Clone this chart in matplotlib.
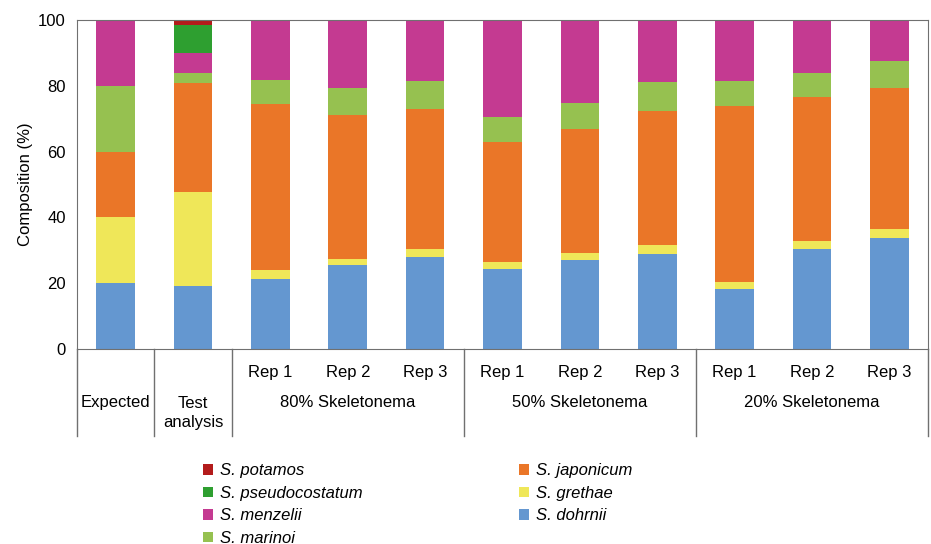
import matplotlib.pyplot as plt
import numpy as np
from matplotlib.patches import Patch

plt.rcParams["font.family"] = ["Liberation Sans", "DejaVu Sans"]

# composition (%) per sample, bottom to top
rep_labels = ["", "", "Rep 1", "Rep 2", "Rep 3", "Rep 1", "Rep 2", "Rep 3",
              "Rep 1", "Rep 2", "Rep 3"]
dohrnii = [20.0, 19.1, 21.4, 25.5, 28.1, 24.2, 26.9, 28.9, 18.2, 30.3, 33.6]
grethae = [20.0, 28.5, 2.7, 2.0, 2.3, 2.2, 2.3, 2.6, 2.3, 2.5, 2.8]
japonicum = [20.0, 33.2, 50.3, 43.7, 42.6, 36.4, 37.6, 40.9, 53.4, 43.7, 43.0]
marinoi = [20.0, 3.0, 7.3, 8.2, 8.4, 7.6, 7.9, 8.7, 7.5, 7.3, 8.2]
menzelii = [20.0, 6.3, 18.3, 20.6, 18.6, 29.6, 25.3, 18.9, 18.6, 16.2, 12.4]
pseudocostatum = [0, 8.5, 0, 0, 0, 0, 0, 0, 0, 0, 0]
potamos = [0, 1.4, 0, 0, 0, 0, 0, 0, 0, 0, 0]

groups = [("Expected", 0, 0), ("Test\nanalysis", 1, 1), ("80% Skeletonema", 2, 4),
          ("50% Skeletonema", 5, 7), ("20% Skeletonema", 8, 10)]

series = [
    ("S. dohrnii", dohrnii, "#6497D0"),
    ("S. grethae", grethae, "#EFE759"),
    ("S. japonicum", japonicum, "#EA7628"),
    ("S. marinoi", marinoi, "#96C150"),
    ("S. menzelii", menzelii, "#C43A91"),
    ("S. pseudocostatum", pseudocostatum, "#2E9F30"),
    ("S. potamos", potamos, "#B31B1B"),
]

fig = plt.figure(figsize=(9.31, 5.44), dpi=100)
ax = fig.add_axes([77 / 931, 1 - 349 / 544, 851 / 931, 329 / 544])

x = np.arange(len(dohrnii))
bottom = np.zeros(len(x))
colors = {}
for name, vals, col in series:
    vals = np.array(vals)
    ax.bar(x, vals, bottom=bottom, width=0.5, color=col, edgecolor="none")
    bottom += vals
    colors[name] = col

ax.set_xlim(-0.5, len(x) - 0.5)
ax.set_ylim(0, 100)
ax.set_yticks(range(0, 101, 20))
ax.set_xticks([])
ax.tick_params(axis="y", length=0, pad=8, labelsize=12)
ax.set_ylabel("Composition (%)", fontsize=12, labelpad=4)
for sp in ax.spines.values():
    sp.set_color("#707070")

# category table below the axis
tr = ax.get_xaxis_transform()
edges = [-0.5, 0.5, 1.5, 4.5, 7.5, 10.5]
for e in edges:
    ax.plot([e, e], [0, -0.265], transform=tr, color="#707070", lw=1, clip_on=False)
for i, lab in enumerate(rep_labels):
    ax.text(i, -0.07, lab, transform=tr, ha="center", va="center", fontsize=12)
for lab, a, b in groups:
    y = -0.195 if "\n" in lab else -0.164
    ax.text((a + b) / 2, y, lab, transform=tr, ha="center", va="center",
            fontsize=12, linespacing=1.3)

order = ["S. potamos", "S. pseudocostatum", "S. menzelii", "S. marinoi",
         "S. japonicum", "S. grethae", "S. dohrnii"]
handles = [Patch(facecolor=colors[n], edgecolor="none", label=n) for n in order]
fig.legend(handles=handles, ncol=2, loc="upper left", bbox_to_anchor=(195 / 931, 1 - 455 / 544),
           frameon=False, prop={"style": "italic", "size": 12}, handlelength=0.6,
           handleheight=0.6, handletextpad=0.4, columnspacing=9.4, labelspacing=0.45,
           borderpad=0)

fig.savefig("out.png", dpi=100)
